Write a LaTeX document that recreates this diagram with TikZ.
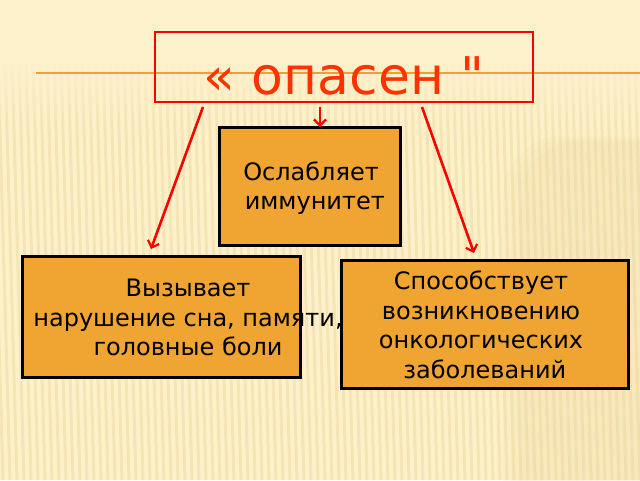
\documentclass[tikz,border=0pt]{standalone}
\usepackage{fontspec}
\setmainfont{DejaVu Sans}
\newfontfamily\titlefont{DejaVu Sans}
\usetikzlibrary{arrows.meta}
\definecolor{bgcream}{RGB}{253,241,204}
\definecolor{stripecol}{RGB}{245,229,180}
\definecolor{shadecol}{RGB}{236,215,155}
\definecolor{lineorange}{RGB}{240,160,48}
\definecolor{boxorange}{RGB}{240,165,50}
\definecolor{titlered}{RGB}{255,50,0}
\definecolor{arrred}{RGB}{255,0,0}
\begin{document}
\begin{tikzpicture}[x=1pt,y=-1pt,
  titlebox/.style={draw=arrred, line width=2.8pt, rectangle, inner sep=0pt, minimum width=378pt, minimum height=70pt},
  titletxt/.style={text=titlered, font=\titlefont\fontsize{52}{60}\selectfont, inner sep=0pt},
  obox/.style={draw=black, line width=3pt, fill=boxorange, rectangle, inner sep=0pt},
  otxt/.style={text=black, font=\fontsize{24}{29.5}\selectfont, align=center, inner sep=0pt},
  arr/.style={draw=arrred, line width=2.6pt, -{Straight Barb[length=6pt,width=12pt,line width=2.2pt]}}]
\useasboundingbox (0,0) rectangle (640,480);
\begin{scope}
\clip (0,0) rectangle (640,480);
\fill[bgcream] (0,0) rectangle (640,480);
\foreach \i in {-30,-23,...,660} \draw[stripecol, line width=3pt] (\i,60) -- (\i+12,480);
\foreach \k [evaluate=\k as \op using 1-\k/14] in {0,...,13}
  \fill[bgcream, opacity=\op] (0,{58+\k*5}) rectangle (640,{63+\k*5});
\foreach \d in {0,8,16}
  \fill[shadecol, opacity=0.1, rounded corners=60pt] ({503+\d},{136+\d*0.3}) rectangle (760,560);
\end{scope}
\draw[lineorange, line width=2pt] (36,73) -- (640,73);
% title
\node[titlebox] (title) at (344,67) {};
\node[titletxt, anchor=base] (titletext) at (344,94) {« опасен "};
% boxes
\node[obox, minimum width=181pt, minimum height=118pt] (mbox) at (309.5,186) {};
\node[obox, minimum width=278pt, minimum height=121pt] (lbox) at (161,316.5) {};
\node[obox, minimum width=287pt, minimum height=128pt] (rbox) at (484.5,324) {};
\node[otxt] (mtext) at (311,188) {Ослабляет\\ \ иммунитет};
\node[otxt] (ltext) at (188,317.5) {Вызывает\\нарушение сна, памяти,\\головные боли};
\node[otxt] (rtext) at (481,325) {Способствует\\возникновению\\онкологических\\ \ заболеваний};
% connectors
\coordinate (lstart) at (203,107);
\coordinate (lend) at (151,249);
\coordinate (mstart) at (320,107);
\coordinate (mend) at (320,127);
\coordinate (rstart) at (422,107);
\coordinate (rend) at (474,253);
\draw[arr] (lstart) -- (lend);
\draw[arr] (mstart) -- (mend);
\draw[arr] (rstart) -- (rend);
\end{tikzpicture}
\end{document}
